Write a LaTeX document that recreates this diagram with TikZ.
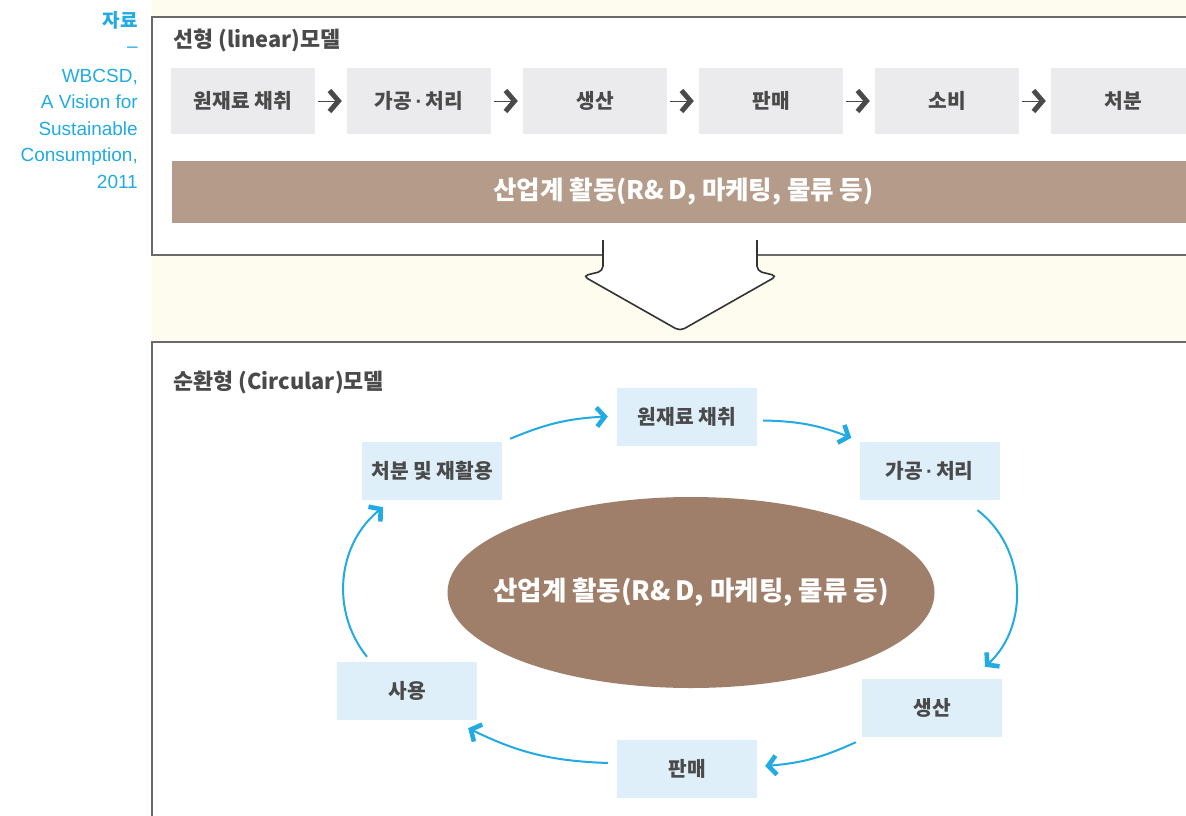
\documentclass[tikz,border=0pt]{standalone}
\usepackage{fontspec}
\setmainfont{Liberation Sans}
\newfontfamily\kr{Noto Sans CJK KR}
\newfontfamily\lat{Liberation Sans}
\usetikzlibrary{arrows.meta,shapes.geometric,calc}
\definecolor{cream}{HTML}{FEFCEF}
\definecolor{framec}{HTML}{6A6A6A}
\definecolor{lgray}{HTML}{EBEBED}
\definecolor{txtc}{HTML}{4A4A4A}
\definecolor{barc}{HTML}{B59B89}
\definecolor{ellc}{HTML}{A07F6A}
\definecolor{lblue}{HTML}{DFEFFA}
\definecolor{cyanc}{HTML}{22AAE2}
\definecolor{arrc}{HTML}{333333}
\definecolor{chev}{HTML}{4A4A4A}
\newcommand{\mdot}{\,{\lat\bfseries ·}\,}
\tikzset{
  frame/.style={draw=framec,line width=1.3pt},
  lbox/.style={fill=lgray,minimum width=144,minimum height=66,inner sep=0pt,text=txtc,font=\kr\bfseries\fontsize{20.3}{20.3}\selectfont},
  cbox/.style={fill=lblue,minimum width=140,minimum height=58,inner sep=0pt,text=txtc,font=\kr\bfseries\fontsize{20.3}{20.3}\selectfont},
  titlec/.style={anchor=base west,inner sep=0pt,text=txtc,font=\kr\bfseries\fontsize{21.8}{21.8}\selectfont},
  citec/.style={anchor=base east,inner sep=0pt,text=cyanc,font=\fontsize{19}{19}\selectfont},
  larrow/.style={draw=chev,line width=1pt,-{Straight Barb[length=9pt,width=21pt,line width=5pt]}},
  carrow/.style={draw=cyanc,line width=2pt,-{Straight Barb[length=8pt,width=19pt,line width=4.6pt]}},
}
\begin{document}
\begin{tikzpicture}[x=1pt,y=-1pt]
\useasboundingbox (0,0) rectangle (1186,816);
% backgrounds and frames
\fill[cream] (152,0) rectangle (1186,342);
\fill[white] (152,17) rectangle (1186,255);
\draw[frame] (1190,17) -- (152,17) -- (152,255) -- (1190,255);
\fill[white] (152,342) rectangle (1186,816);
\draw[frame] (1190,342) -- (152,342) -- (152,820);
% citation
\node[citec,font=\kr\bfseries\fontsize{19}{19}\selectfont] (s1) at (138,28) {자료};
\node[citec] (s2) at (138,53) {–};
\node[citec] (s3) at (138,82) {WBCSD,};
\node[citec] (s4) at (138,108.5) {A Vision for};
\node[citec] (s5) at (138,135) {Sustainable};
\node[citec] (s6) at (138,161.5) {Consumption,};
\node[citec] (s7) at (138,188) {2011};
% linear model
\node[titlec] (t1) at (173,48) {선형 (linear)모델};
\node[lbox] (l1) at (243,101) {원재료 채취};
\node[lbox] (l2) at (419,101) {가공\mdot 처리};
\node[lbox] (l3) at (595,101) {생산};
\node[lbox] (l4) at (771,101) {판매};
\node[lbox] (l5) at (947,101) {소비};
\node[lbox] (l6) at (1123,101) {처분};
\foreach \a/\b in {l1/l2,l2/l3,l3/l4,l4/l5,l5/l6}
  \draw[larrow] ($(\a.east)+(3,0)$) -- ($(\b.west)+(-5,0)$);
\node[fill=barc,minimum width=1023,minimum height=62,inner sep=0pt,text=white,font=\kr\bfseries\fontsize{25.5}{25.5}\selectfont] (bar) at (683.5,192) {산업계 활동(R\&\,D, 마케팅, 물류 등)};
% big arrow
\fill[white,rounded corners=5pt] (603,238) -- (603,271) -- (583,276) -- (680,331) -- (777,276) -- (757,271) -- (757,238) -- cycle;
\draw[arrc,line width=1.6pt,rounded corners=5pt] (603,240) -- (603,271) -- (583,276) -- (680,331) -- (777,276) -- (757,271) -- (757,240);
% circular model
\node[titlec] (t2) at (173,389) {순환형 (Circular)모델};
\node[fill=ellc,ellipse,minimum width=487,minimum height=191,inner sep=0pt] (ell) at (691,592.5) {};
\node[inner sep=0pt,text=white,font=\kr\bfseries\fontsize{26.5}{26.5}\selectfont] (ellt) at (ell.center) {산업계 활동(R\&\,D, 마케팅, 물류 등)};
\node[cbox] (c1) at (687,416.5) {원재료 채취};
\node[cbox] (c2) at (929.5,471) {가공\mdot 처리};
\node[cbox] (c3) at (932,708) {생산};
\node[cbox] (c4) at (687,769) {판매};
\node[cbox] (c5) at (407,691) {사용};
\node[cbox] (c6) at (432,471) {처분 및 재활용};
\draw[carrow] ($(c6.north east)+(8,-3)$) to[bend left=10] ($(c1.west)+(-9,0)$);
\draw[carrow] ($(c1.east)+(6,4)$) to[bend left=10] ($(c2.north west)+(-8,-4)$);
\draw[carrow] ($(c2.south)+(48,10)$) to[bend left=50] ($(c3.north)+(53,-12)$);
\draw[carrow] ($(c3.south west)+(-6,5)$) to[bend left=10] ($(c4.east)+(8,-3)$);
\draw[carrow] ($(c4.west)+(-9,-6)$) to[bend left=12] ($(c5.south east)+(-9,8)$);
\draw[carrow] ($(c5.north)+(-40,-5)$) to[bend left=45] ($(c6.south)+(-49,7)$);
\end{tikzpicture}
\end{document}
